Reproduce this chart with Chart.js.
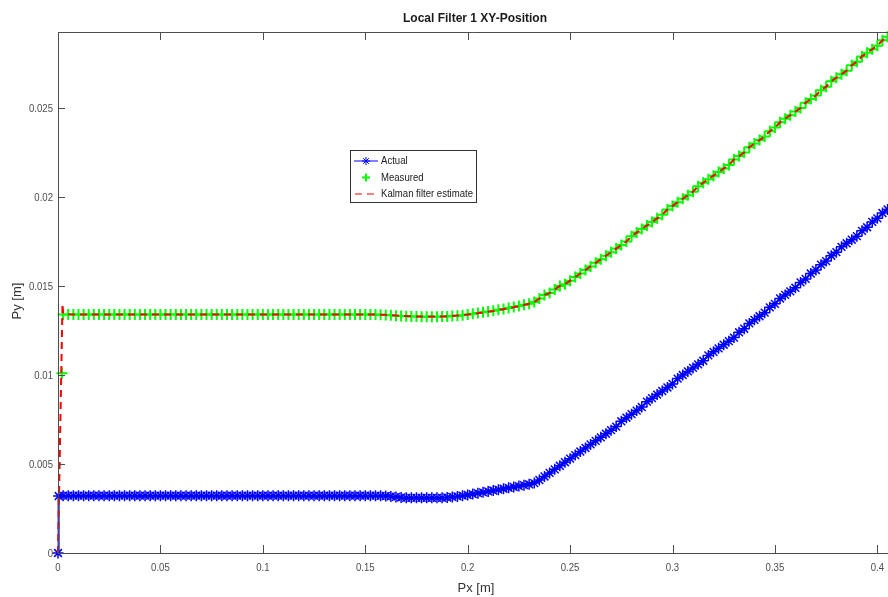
<!DOCTYPE html>
<html>
<head>
<meta charset="utf-8">
<script src="https://cdn.jsdelivr.net/npm/chart.js@4/dist/chart.umd.min.js"></script>
<style>
  html, body { margin: 0; padding: 0; background: #fff; overflow: hidden; }
</style>
</head>
<body>
<canvas id="xyChart" width="888" height="597"></canvas>
<script>
// 座標軸刻度
const xTicks = [0, 0.05, 0.1, 0.15, 0.2, 0.25, 0.3, 0.35, 0.4];
const xTickLabels = ['0', '0.05', '0.1', '0.15', '0.2', '0.25', '0.3', '0.35', '0.4'];
const yTicks = [0, 0.005, 0.01, 0.015, 0.02, 0.025];
const yTickLabels = ['0', '0.005', '0.01', '0.015', '0.02', '0.025'];

// Px 取樣位置
const pxVals = [
  0.0025, 0.005, 0.0075, 0.01, 0.0125, 0.015, 0.0175, 0.02, 0.0225, 0.025,
  0.0275, 0.03, 0.0325, 0.035, 0.0375, 0.04, 0.0425, 0.045, 0.0475, 0.05,
  0.0525, 0.055, 0.0575, 0.06, 0.0625, 0.065, 0.0675, 0.07, 0.0725, 0.075,
  0.0775, 0.08, 0.0825, 0.085, 0.0875, 0.09, 0.0925, 0.095, 0.0975, 0.1,
  0.1025, 0.105, 0.1075, 0.11, 0.1125, 0.115, 0.1175, 0.12, 0.1225, 0.125,
  0.1275, 0.13, 0.1325, 0.135, 0.1375, 0.14, 0.1425, 0.145, 0.1475, 0.15,
  0.1525, 0.155, 0.1575, 0.16, 0.1625, 0.165, 0.1675, 0.17, 0.1725, 0.175,
  0.1775, 0.18, 0.1825, 0.185, 0.1875, 0.19, 0.1925, 0.195, 0.1975, 0.2,
  0.2025, 0.205, 0.2075, 0.21, 0.2125, 0.215, 0.2175, 0.22, 0.2225, 0.225,
  0.2275, 0.23, 0.2325, 0.235, 0.2375, 0.24, 0.2425, 0.245, 0.2475, 0.25,
  0.2525, 0.255, 0.2575, 0.26, 0.2625, 0.265, 0.2675, 0.27, 0.2725, 0.275,
  0.2775, 0.28, 0.2825, 0.285, 0.2875, 0.29, 0.2925, 0.295, 0.2975, 0.3,
  0.3025, 0.305, 0.3075, 0.31, 0.3125, 0.315, 0.3175, 0.32, 0.3225, 0.325,
  0.3275, 0.33, 0.3325, 0.335, 0.3375, 0.34, 0.3425, 0.345, 0.3475, 0.35,
  0.3525, 0.355, 0.3575, 0.36, 0.3625, 0.365, 0.3675, 0.37, 0.3725, 0.375,
  0.3775, 0.38, 0.3825, 0.385, 0.3875, 0.39, 0.3925, 0.395, 0.3975, 0.4,
  0.4025, 0.405
];

// Actual
const actualStartX = [0, 0.0003];
const actualStartY = [0, 0.0032];
const actualY = [
  0.00322, 0.00322, 0.00322, 0.00322, 0.00322, 0.00322, 0.00322, 0.00322, 0.00322, 0.00322,
  0.00322, 0.00322, 0.00322, 0.00322, 0.00322, 0.00322, 0.00322, 0.00322, 0.00322, 0.00322,
  0.00322, 0.00322, 0.00322, 0.00322, 0.00322, 0.00322, 0.00322, 0.00322, 0.00322, 0.00322,
  0.00322, 0.00322, 0.00322, 0.00322, 0.00322, 0.00322, 0.00322, 0.00322, 0.00322, 0.00322,
  0.00322, 0.00322, 0.00322, 0.00322, 0.00322, 0.00322, 0.00322, 0.00322, 0.00322, 0.00322,
  0.00322, 0.00322, 0.00322, 0.00322, 0.00322, 0.00322, 0.00322, 0.00322, 0.00322, 0.00322,
  0.00322, 0.00322, 0.00321, 0.0032, 0.00318, 0.00315, 0.00312, 0.0031, 0.0031, 0.0031,
  0.0031, 0.0031, 0.0031, 0.0031, 0.0031, 0.00312, 0.00315, 0.00318, 0.00322, 0.00326,
  0.00331, 0.00336, 0.00341, 0.00346, 0.00351, 0.00356, 0.00361, 0.00366, 0.00371, 0.00376,
  0.00381, 0.00386, 0.00393, 0.0041, 0.0043, 0.0045, 0.0047, 0.0049, 0.0051, 0.0053,
  0.0055, 0.0057, 0.0059, 0.0061, 0.0063, 0.0065, 0.0067, 0.0069, 0.0071, 0.0074,
  0.0076, 0.0078, 0.008, 0.0082, 0.0085, 0.0087, 0.0089, 0.0091, 0.0093, 0.0095,
  0.0098, 0.01, 0.0102, 0.0104, 0.0106, 0.0108, 0.0111, 0.0113, 0.0115, 0.0117,
  0.0119, 0.0121, 0.0124, 0.0126, 0.0129, 0.0131, 0.0133, 0.0135, 0.0138, 0.014,
  0.0143, 0.0145, 0.0147, 0.0149, 0.0152, 0.0154, 0.0157, 0.0159, 0.0162, 0.0164,
  0.0167, 0.0169, 0.0172, 0.0174, 0.0176, 0.0178, 0.0181, 0.0183, 0.0186, 0.0188,
  0.0191, 0.0193
];

// Measured
const measuredStartX = [0.0019];
const measuredStartY = [0.0101];
const measuredY = [
  0.0134, 0.0134, 0.0134, 0.0134, 0.0134, 0.0134, 0.0134, 0.0134, 0.0134, 0.0134,
  0.0134, 0.0134, 0.0134, 0.0134, 0.0134, 0.0134, 0.0134, 0.0134, 0.0134, 0.0134,
  0.0134, 0.0134, 0.0134, 0.0134, 0.0134, 0.0134, 0.0134, 0.0134, 0.0134, 0.0134,
  0.0134, 0.0134, 0.0134, 0.0134, 0.0134, 0.0134, 0.0134, 0.0134, 0.0134, 0.0134,
  0.0134, 0.0134, 0.0134, 0.0134, 0.0134, 0.0134, 0.0134, 0.0134, 0.0134, 0.0134,
  0.0134, 0.0134, 0.0134, 0.0134, 0.0134, 0.0134, 0.0134, 0.0134, 0.0134, 0.0134,
  0.0134, 0.0134, 0.01339, 0.01337, 0.01335, 0.01333, 0.01331, 0.0133, 0.01329, 0.01328,
  0.01327, 0.01327, 0.01327, 0.01327, 0.01328, 0.01329, 0.01331, 0.01333, 0.01336, 0.0134,
  0.01344, 0.01348, 0.01352, 0.01357, 0.01361, 0.01366, 0.01371, 0.01376, 0.01382, 0.01388,
  0.01394, 0.014, 0.0141, 0.0143, 0.0145, 0.0146, 0.0148, 0.015, 0.0151, 0.0153,
  0.0155, 0.0157, 0.0159, 0.0161, 0.0163, 0.0165, 0.0167, 0.0169, 0.0171, 0.0173,
  0.0175, 0.0178, 0.018, 0.0182, 0.0184, 0.0186, 0.0188, 0.019, 0.0193, 0.0195,
  0.0197, 0.0199, 0.0201, 0.0203, 0.0206, 0.0208, 0.021, 0.0212, 0.0214, 0.0216,
  0.0218, 0.0221, 0.0223, 0.0225, 0.0228, 0.023, 0.0232, 0.0234, 0.0237, 0.0239,
  0.0242, 0.0244, 0.0246, 0.0248, 0.025, 0.0253, 0.0255, 0.0257, 0.026, 0.0262,
  0.0265, 0.0267, 0.0269, 0.0271, 0.0274, 0.0276, 0.0279, 0.0281, 0.0283, 0.0285,
  0.0288, 0.029
];

// Kalman filter estimate
const kalmanStartX = [0, 0.0022];
const kalmanStartY = [0, 0.014];
const kalmanY = [
  0.01345, 0.01342, 0.0134, 0.0134, 0.0134, 0.0134, 0.0134, 0.0134, 0.0134, 0.0134,
  0.0134, 0.0134, 0.0134, 0.0134, 0.0134, 0.0134, 0.0134, 0.0134, 0.0134, 0.0134,
  0.0134, 0.0134, 0.0134, 0.0134, 0.0134, 0.0134, 0.0134, 0.0134, 0.0134, 0.0134,
  0.0134, 0.0134, 0.0134, 0.0134, 0.0134, 0.0134, 0.0134, 0.0134, 0.0134, 0.0134,
  0.0134, 0.0134, 0.0134, 0.0134, 0.0134, 0.0134, 0.0134, 0.0134, 0.0134, 0.0134,
  0.0134, 0.0134, 0.0134, 0.0134, 0.0134, 0.0134, 0.0134, 0.0134, 0.0134, 0.0134,
  0.0134, 0.0134, 0.01339, 0.01338, 0.01336, 0.01334, 0.01332, 0.01331, 0.0133, 0.01329,
  0.01328, 0.01328, 0.01328, 0.01328, 0.01329, 0.0133, 0.01331, 0.01334, 0.01337, 0.0134,
  0.01343, 0.01347, 0.01351, 0.01356, 0.0136, 0.01365, 0.0137, 0.01375, 0.01381, 0.01387,
  0.01393, 0.014, 0.0141, 0.0143, 0.0145, 0.0146, 0.0148, 0.015, 0.0151, 0.0153,
  0.0155, 0.0157, 0.0159, 0.0161, 0.0163, 0.0165, 0.0167, 0.0169, 0.0171, 0.0173,
  0.0175, 0.0178, 0.018, 0.0182, 0.0184, 0.0186, 0.0188, 0.019, 0.0193, 0.0195,
  0.0197, 0.0199, 0.0201, 0.0203, 0.0206, 0.0208, 0.021, 0.0212, 0.0214, 0.0216,
  0.0218, 0.0221, 0.0223, 0.0225, 0.0228, 0.023, 0.0232, 0.0234, 0.0237, 0.0239,
  0.0242, 0.0244, 0.0246, 0.0248, 0.025, 0.0253, 0.0255, 0.0257, 0.026, 0.0262,
  0.0265, 0.0267, 0.0269, 0.0271, 0.0274, 0.0276, 0.0279, 0.0281, 0.0283, 0.0285,
  0.0288, 0.029
];

const X_MAX = 0.4052;
const Y_MAX = 0.02927;

function toPoints(startX, startY, ys) {
  const pts = startX.map((x, i) => ({ x: x, y: startY[i] }));
  return pts.concat(ys.map((y, i) => ({ x: pxVals[i], y: y })));
}

const FONT = "'Liberation Sans', Arial, Helvetica, sans-serif";
const AXIS_COLOR = '#4d4d4d';
const NARROW = 0.87;

// 窄字體文字
function narrowText(ctx, text, x, y, align) {
  ctx.save();
  ctx.translate(x, y);
  ctx.scale(NARROW, 1);
  ctx.textAlign = align;
  ctx.fillText(text, 0, 0);
  ctx.restore();
}

// 外框、內向刻度、標題、圖例
const matlabFrame = {
  id: 'matlabFrame',
  afterDraw(chart) {
    const ctx = chart.ctx;
    const a = chart.chartArea;
    const xs = chart.scales.x;
    const ys = chart.scales.y;
    ctx.save();
    ctx.strokeStyle = AXIS_COLOR;
    ctx.lineWidth = 1;
    ctx.beginPath();
    ctx.moveTo(a.left + 0.5, a.top + 0.5);
    ctx.lineTo(a.right, a.top + 0.5);
    ctx.moveTo(a.left + 0.5, a.top + 0.5);
    ctx.lineTo(a.left + 0.5, a.bottom + 0.5);
    ctx.lineTo(a.right, a.bottom + 0.5);
    xTicks.forEach(v => {
      const p = Math.round(xs.getPixelForValue(v)) + 0.5;
      ctx.moveTo(p, a.bottom);
      ctx.lineTo(p, a.bottom - 8);
      ctx.moveTo(p, a.top);
      ctx.lineTo(p, a.top + 8);
    });
    yTicks.forEach(v => {
      const p = Math.round(ys.getPixelForValue(v)) + 0.5;
      ctx.moveTo(a.left, p);
      ctx.lineTo(a.left + 7, p);
    });
    ctx.stroke();

    // 刻度文字
    ctx.fillStyle = '#4d4d4d';
    ctx.textBaseline = 'middle';
    ctx.font = '11px ' + FONT;
    xTicks.forEach((v, i) => {
      narrowText(ctx, xTickLabels[i], xs.getPixelForValue(v), a.bottom + 15, 'center');
    });
    yTicks.forEach((v, i) => {
      narrowText(ctx, yTickLabels[i], a.left - 5, ys.getPixelForValue(v) + 0.5, 'right');
    });

    // 標題
    const cx = (a.left + a.right) / 2;
    ctx.fillStyle = '#1a1a1a';
    ctx.textAlign = 'center';
    ctx.font = 'bold 12px ' + FONT;
    ctx.fillText('Local Filter 1 XY-Position', cx + 2, 19);

    ctx.fillStyle = '#333';
    ctx.font = '13px ' + FONT;
    ctx.fillText('Px [m]', cx + 3, 588);
    ctx.save();
    ctx.translate(17, 301);
    ctx.rotate(-Math.PI / 2);
    ctx.fillText('Py [m]', 0, 0);
    ctx.restore();

    // 圖例
    const lx = 350.5, ly = 150.5, lw = 126, lh = 52;
    ctx.fillStyle = '#fff';
    ctx.fillRect(lx, ly, lw, lh);
    ctx.strokeStyle = '#333';
    ctx.strokeRect(lx, ly, lw, lh);
    const rows = [161, 177.5, 194];
    const mx = 366;

    ctx.strokeStyle = '#0000ff';
    ctx.lineWidth = 1;
    ctx.beginPath();
    ctx.moveTo(354, rows[0]);
    ctx.lineTo(378, rows[0]);
    ctx.stroke();
    Chart.helpers.drawPoint(ctx, { pointStyle: 'star', radius: 4, borderWidth: 1.5, rotation: 0 }, mx, rows[0]);

    ctx.strokeStyle = '#00ff00';
    ctx.lineWidth = 2;
    Chart.helpers.drawPoint(ctx, { pointStyle: 'cross', radius: 4, borderWidth: 2, rotation: 0 }, mx, rows[1]);

    ctx.strokeStyle = '#ff0000';
    ctx.lineWidth = 1.2;
    ctx.setLineDash([7, 5]);
    ctx.beginPath();
    ctx.moveTo(355, rows[2]);
    ctx.lineTo(378, rows[2]);
    ctx.stroke();
    ctx.setLineDash([]);

    ctx.fillStyle = '#1a1a1a';
    ctx.font = '11px ' + FONT;
    narrowText(ctx, 'Actual', 381, rows[0], 'left');
    narrowText(ctx, 'Measured', 381, rows[1], 'left');
    narrowText(ctx, 'Kalman filter estimate', 381, rows[2], 'left');
    ctx.restore();
  }
};

const ctx = document.getElementById('xyChart').getContext('2d');

new Chart(ctx, {
  type: 'scatter',
  data: {
    datasets: [
      {
        label: 'Actual',
        data: toPoints(actualStartX, actualStartY, actualY),
        showLine: true,
        borderColor: '#0000ff',
        backgroundColor: '#0000ff',
        borderWidth: 2,
        pointStyle: 'star',
        pointRadius: 5.5,
        pointBorderWidth: 1.5,
        clip: false,
        order: 2
      },
      {
        label: 'Measured',
        data: toPoints(measuredStartX, measuredStartY, measuredY),
        showLine: false,
        borderColor: '#00ff00',
        backgroundColor: '#00ff00',
        pointStyle: 'cross',
        pointRadius: 5.5,
        pointBorderWidth: 2,
        clip: false,
        order: 1
      },
      {
        label: 'Kalman filter estimate',
        data: toPoints(kalmanStartX, kalmanStartY, kalmanY),
        showLine: true,
        borderColor: '#ff0000',
        backgroundColor: '#ff0000',
        borderWidth: 2,
        borderDash: [7, 5],
        pointRadius: 0,
        clip: false,
        order: 0
      }
    ]
  },
  options: {
    responsive: false,
    animation: false,
    layout: { autoPadding: false, padding: { top: 32, right: 0, bottom: 0, left: 0 } },
    scales: {
      x: {
        type: 'linear',
        min: 0,
        max: X_MAX,
        afterFit: s => { s.height = 44; s.paddingLeft = 0; s.paddingRight = 0; },
        afterBuildTicks: s => { s.ticks = xTicks.map(v => ({ value: v })); },
        grid: { display: false, drawTicks: false },
        border: { display: false },
        ticks: { display: false }
      },
      y: {
        type: 'linear',
        min: 0,
        max: Y_MAX,
        afterFit: s => { s.width = 58; s.paddingTop = 0; s.paddingBottom = 0; },
        afterBuildTicks: s => { s.ticks = yTicks.map(v => ({ value: v })); },
        grid: { display: false, drawTicks: false },
        border: { display: false },
        ticks: { display: false }
      }
    },
    plugins: {
      legend: { display: false },
      title: { display: false },
      tooltip: { enabled: false }
    }
  },
  plugins: [matlabFrame]
});
</script>
</body>
</html>
